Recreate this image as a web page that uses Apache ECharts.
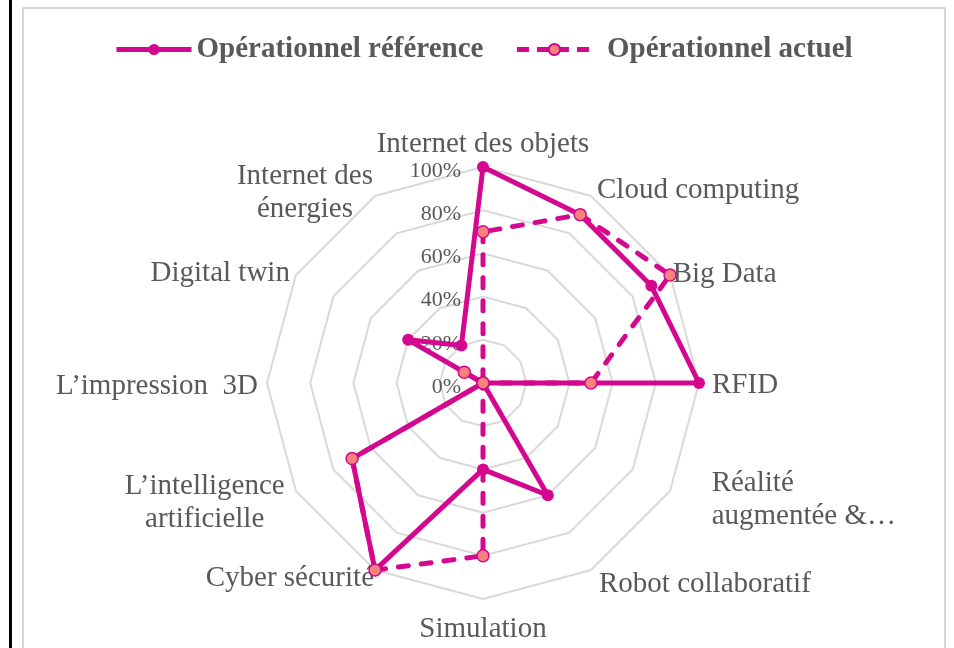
<!DOCTYPE html>
<html>
<head>
<meta charset="utf-8">
<title>Opérationnel</title>
<script src="https://cdn.jsdelivr.net/npm/echarts@6.0.0/dist/echarts.min.js"></script>
<style>
  html, body { margin: 0; padding: 0; background: #ffffff; }
  #main { width: 954px; height: 648px; }
</style>
</head>
<body>
<div id="main"></div>
<script>
// indicator names, clockwise from the top
const categories = ['Internet des objets', 'Cloud computing', 'Big Data', 'RFID', 'Réalité\naugmentée &…',
  'Robot collaboratif', 'Simulation', 'Cyber sécurité', 'L’intelligence\nartificielle', 'L’impression  3D',
  'Digital twin', 'Internet des\nénergies'];
const seriesNames = ['Opérationnel référence', 'Opérationnel actuel'];
const reference = [100, 90, 90, 100, 0, 60, 40, 100, 70, 0, 40, 20];
const actuel = [70, 90, 100, 50, 0, 0, 80, 100, 70, 0, 10, 0];
const tickLabels = ['0%', '20%', '40%', '60%', '80%', '100%'];

// gap from the outer ring to each name and a small vertical nudge (Excel places them a bit irregularly)
const nameGaps = [6, 12, 3, 13, 48, 16, 14, 2, 13, 9, 7, 4];
const nameNudge = [0, 5, 1, 2, -15, 0, 0, 7, 5, 3, 2, 0];

document.addEventListener('DOMContentLoaded', function() {
    var chartDom = document.getElementById('main');
    var myChart = echarts.init(chartDom);
    var option;

    const MAGENTA = '#D4088E';
    const SALMON = '#F5837B';
    const GREY = '#595959';
    const FONT = '"Liberation Serif", "Times New Roman", serif';

    // ECharts lays radar indicators out counter-clockwise, so reverse the tail
    const order = [0].concat(categories.map((c, i) => i).slice(1).reverse());
    const pick = arr => order.map(i => arr[i]);

    const indicators = order.map((i, k) => {
        const n = nameNudge[i];
        const ind = {
            name: categories[i],
            max: 100,
            min: 0,
            nameGap: nameGaps[i],
            lineAlign: i === 4 ? 'l' : 'c',
            nameTextStyle: {
                padding: n >= 0 ? [2 * n, 0, 0, 0] : [0, 0, -2 * n, 0]
            }
        };
        if (k === 0) {
            ind.axisLabel = {
                show: true,
                margin: 22,
                fontFamily: FONT,
                fontSize: 22,
                color: GREY,
                formatter: v => '{t|' + tickLabels[Math.round(v / 20)] + '}',
                rich: {
                    t: { fontFamily: FONT, fontSize: 22, color: GREY, padding: [8, 0, 0, 0] }
                }
            };
        }
        return ind;
    });

    option = {
        backgroundColor: '#ffffff',
        animation: false,
        graphic: [
            {
                type: 'rect',
                silent: true,
                shape: { x: 23, y: 8, width: 922, height: 680 },
                style: { fill: 'none', stroke: '#d9d9d9', lineWidth: 2 }
            },
            {
                type: 'rect',
                silent: true,
                shape: { x: 9, y: 0, width: 3, height: 648 },
                style: { fill: '#000000' }
            }
        ],
        legend: {
            top: 30,
            left: 109,
            itemWidth: 75,
            itemHeight: 14,
            itemGap: 31,
            data: [
                { name: seriesNames[0] },
                { name: seriesNames[1], textStyle: { padding: [0, 0, 0, 10] } }
            ],
            selectedMode: false,
            lineStyle: { width: 5 },
            textStyle: {
                fontFamily: FONT,
                fontSize: 29,
                fontWeight: 'bold',
                color: GREY
            }
        },
        // hidden cartesian only used so the legend can draw line icons
        grid: { show: false, left: 0, top: 0, width: 1, height: 1 },
        xAxis: { show: false, type: 'category', data: [] },
        yAxis: { show: false, type: 'value' },
        radar: {
            center: [483, 383],
            radius: 216,
            shape: 'polygon',
            splitNumber: 5,
            indicator: indicators,
            axisName: {
                fontFamily: FONT,
                fontSize: 29,
                color: GREY,
                formatter: function(name, ind) {
                    const tag = ind && ind.lineAlign === 'l' ? 'l' : 'c';
                    return name.split('\n').map(s => '{' + tag + '|' + s + '}').join('\n');
                },
                rich: {
                    c: { align: 'center', fontFamily: FONT, fontSize: 29, color: GREY, lineHeight: 33 },
                    l: { align: 'left', fontFamily: FONT, fontSize: 29, color: GREY, lineHeight: 33 }
                }
            },
            axisLine: { show: false },
            axisTick: { show: false },
            axisLabel: { show: false },
            splitArea: { show: false },
            splitLine: { lineStyle: { color: '#d9d9d9', width: 2 } }
        },
        series: [
            {
                name: seriesNames[0],
                type: 'line',
                data: [],
                symbol: 'circle',
                lineStyle: { color: MAGENTA, width: 5 },
                itemStyle: { color: MAGENTA }
            },
            {
                name: seriesNames[1],
                type: 'line',
                data: [],
                symbol: 'circle',
                lineStyle: { color: MAGENTA, width: 5, type: [12, 8] },
                itemStyle: { color: SALMON, borderColor: MAGENTA, borderWidth: 1.5 }
            },
            {
                name: 'radar',
                type: 'radar',
                silent: true,
                emphasis: { disabled: true },
                data: [
                    {
                        value: pick(reference),
                        name: seriesNames[0],
                        symbol: 'circle',
                        symbolSize: 12,
                        lineStyle: { color: MAGENTA, width: 5, join: 'round' },
                        itemStyle: { color: MAGENTA }
                    },
                    {
                        value: pick(actuel),
                        name: seriesNames[1],
                        symbol: 'circle',
                        symbolSize: 12,
                        lineStyle: { color: MAGENTA, width: 5, type: [10, 13], cap: 'round', join: 'round' },
                        itemStyle: { color: SALMON, borderColor: MAGENTA, borderWidth: 1.5 }
                    }
                ]
            }
        ]
    };

    option && myChart.setOption(option);
});
</script>
</body>
</html>
